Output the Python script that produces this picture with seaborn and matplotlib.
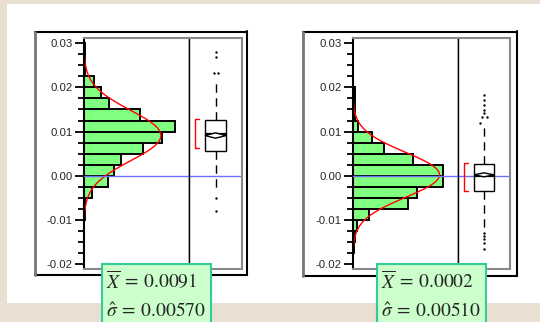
import numpy as np
import pandas as pd
import matplotlib
matplotlib.use("Agg")
import matplotlib.pyplot as plt
import seaborn as sns
from matplotlib.patches import Rectangle, Polygon
from matplotlib.lines import Line2D

# ─── Data ─────────────────────────────────────────────────────────────────────

bin_width = 0.0025

# panel 1 (left)
left_edges = np.arange(-0.01, 0.03 + 1e-9, bin_width)
left_counts = [1, 1, 8, 24, 30, 37, 59, 78, 91, 56, 25, 17, 10, 1, 1, 1]
left_mean, left_sigma = 0.0091, 0.00570
left_box = dict(med=0.0094, q1=0.0056, q3=0.0126, whislo=-0.0035, whishi=0.0217)
left_fliers = [0.0281, 0.0270, 0.0233, 0.0233, -0.0050, -0.0080]
left_flier_dx = [0.0, 0.0, -0.03, 0.05, 0.0, 0.0]
left_short = (0.0063, 0.0128)

# panel 2 (right)
right_edges = np.arange(-0.0175, 0.02 + 1e-9, bin_width)
right_counts = [1, 2, 4, 16, 55, 64, 90, 90, 60, 31, 19, 5, 2, 2, 2]
right_mean, right_sigma = 0.0002, 0.00510
right_box = dict(med=0.0000, q1=-0.0035, q3=0.0026, whislo=-0.0118, whishi=0.0115)
right_fliers = [0.0183, 0.0171, 0.0160, 0.0149, 0.0141, 0.0134, 0.0134, 0.0119,
                -0.0129, -0.0137, -0.0144, -0.0152, -0.0167]
right_flier_dx = [0, 0, 0, 0, 0, -0.04, 0.06, -0.08, 0, 0, 0, 0, 0]
right_short = (-0.0035, 0.0028)

ytick_values = [-0.02, -0.01, 0.0, 0.01, 0.02, 0.03]
ytick_labels = ["-0.02", "-0.01", "0.00", "0.01", "0.02", "0.03"]

# ─── Style ────────────────────────────────────────────────────────────────────

sns.set_theme(style="white")
plt.rcParams["font.family"] = ["Liberation Sans", "DejaVu Sans"]
plt.rcParams["mathtext.fontset"] = "stix"

W, H = 540, 322
fig = plt.figure(figsize=(W / 100, H / 100), dpi=100, facecolor="#e9dfd3")


def fx(x):
    return x / W


def fy(y):
    return 1 - y / H


def add_ax(x0, x1, y0, y1):
    return fig.add_axes([fx(x0), fy(y1), fx(x1) - fx(x0), fy(y0) - fy(y1)])


# white sheet behind the charts
fig.patches.append(Rectangle((fx(7), fy(303)), fx(533), fy(4) - fy(303),
                             transform=fig.transFigure, facecolor="white",
                             edgecolor="none", zorder=-5))

Y_LO, Y_HI = -0.02114, 0.0312


def draw_panel(x_axis, x_div, x_right, ox0, ox1, oy1,
               edges, counts, mean, sigma, box, fliers, flier_dx,
               short, box_w, diamond_h, text_x0):
    # outer frame
    fig.lines.append(Line2D([fx(ox0), fx(ox1)], [fy(32), fy(32)],
                            transform=fig.transFigure, color="black", lw=1.5))
    fig.lines.append(Line2D([fx(ox1), fx(ox1)], [fy(31), fy(oy1)],
                            transform=fig.transFigure, color="black", lw=1.5))
    fig.lines.append(Line2D([fx(ox0), fx(ox1)], [fy(oy1), fy(oy1)],
                            transform=fig.transFigure, color="black", lw=1.5))
    fig.lines.append(Line2D([fx(ox0), fx(ox0)], [fy(32), fy(oy1)],
                            transform=fig.transFigure, color="#777777", lw=2))

    # histogram
    ax = add_ax(x_axis, x_div, 38, 269)
    centers = (edges[:-1] + edges[1:]) / 2
    hist_df = pd.DataFrame({"value": centers, "count": counts})
    sns.histplot(data=hist_df, y="value", weights="count", bins=list(edges), ax=ax,
                 color="#80ff80", edgecolor="black", linewidth=1.4, alpha=1)
    n = sum(counts)
    yy = np.linspace(Y_LO, Y_HI, 70)
    dens = n * bin_width * np.exp(-0.5 * ((yy - mean) / sigma) ** 2) / (sigma * np.sqrt(2 * np.pi))
    ax.plot(dens, yy, color="red", lw=1)
    ax.axhline(0, color="#6f6fff", lw=1, zorder=5)
    ax.set_xlim(0, x_div - x_axis)
    ax.set_ylim(Y_LO, Y_HI)
    ax.set_xlabel("")
    ax.set_ylabel("")
    ax.set_xticks([])
    ax.set_yticks(ytick_values)
    ax.set_yticklabels(ytick_labels)
    ax.set_yticks(np.arange(-0.02, 0.0301, bin_width), minor=True)
    ax.tick_params(axis="y", which="major", length=6.5, width=1.3, pad=1.5,
                   labelsize=8.2, color="black", left=True)
    ax.tick_params(axis="y", which="minor", length=4.5, width=1.3,
                   color="black", left=True)
    for side, col, lw in [("left", "black", 1.5), ("top", "#888888", 1.5),
                          ("bottom", "#888888", 1.5), ("right", "black", 1.0)]:
        ax.spines[side].set_visible(True)
        ax.spines[side].set_color(col)
        ax.spines[side].set_linewidth(lw)

    # box plot area
    bx = add_ax(x_div, x_right, 38, 269)
    bx.set_xlim(0, 1)
    bx.set_ylim(Y_LO, Y_HI)
    bx.axhline(0, color="#6f6fff", lw=1, zorder=1)
    stats = [dict(box, label="", fliers=[])]
    bx.bxp(stats, positions=[0.5], widths=box_w, showfliers=False,
           showcaps=False, patch_artist=True,
           boxprops=dict(facecolor="white", edgecolor="black", lw=1),
           whiskerprops=dict(color="black", lw=1, linestyle=(0, (6, 4))),
           medianprops=dict(color="black", lw=1.6))
    hw = box_w / 2
    bx.add_patch(Polygon([(0.5 - hw, mean), (0.5, mean + diamond_h),
                          (0.5 + hw, mean), (0.5, mean - diamond_h)],
                         closed=True, facecolor="white", edgecolor="black",
                         lw=1, zorder=4))
    bx.scatter([0.5 + d for d in flier_dx], fliers, s=3, color="black",
               zorder=4, linewidths=0)
    # shortest half bracket
    bxk = 0.11
    bx.plot([bxk + 0.075, bxk, bxk, bxk + 0.075],
            [short[0], short[0], short[1], short[1]], color="red", lw=1)
    bx.set_xticks([])
    bx.set_yticks([])
    for side, col, lw in [("left", "black", 1.0), ("top", "#888888", 1.5),
                          ("bottom", "#888888", 1.5), ("right", "#888888", 1.5)]:
        bx.spines[side].set_visible(True)
        bx.spines[side].set_color(col)
        bx.spines[side].set_linewidth(lw)

    # statistics label
    fig.patches.append(Rectangle((fx(text_x0), fy(330)), fx(109), fy(264) - fy(330),
                                 transform=fig.transFigure, facecolor="#ccffcc",
                                 edgecolor="#33cc99", lw=1.5, zorder=5))
    fig.text(fx(text_x0 + 4), fy(281), rf"$\overline{{X}}\:=\:{mean:.4f}$",
             fontsize=14, va="center", ha="left", zorder=6)
    fig.text(fx(text_x0 + 4), fy(312), rf"$\hat{{\sigma}}\:=\:{sigma:.5f}$",
             fontsize=14, va="center", ha="left", zorder=6)


draw_panel(84, 189, 242, 35, 247, 275,
           left_edges, left_counts, left_mean, left_sigma, left_box,
           left_fliers, left_flier_dx, left_short, 0.40, 0.0006, 102)
draw_panel(353, 458, 510, 303, 517, 276,
           right_edges, right_counts, right_mean, right_sigma, right_box,
           right_fliers, right_flier_dx, right_short, 0.38, 0.00045, 377)

fig.savefig("out.png", dpi=100, facecolor=fig.get_facecolor())
